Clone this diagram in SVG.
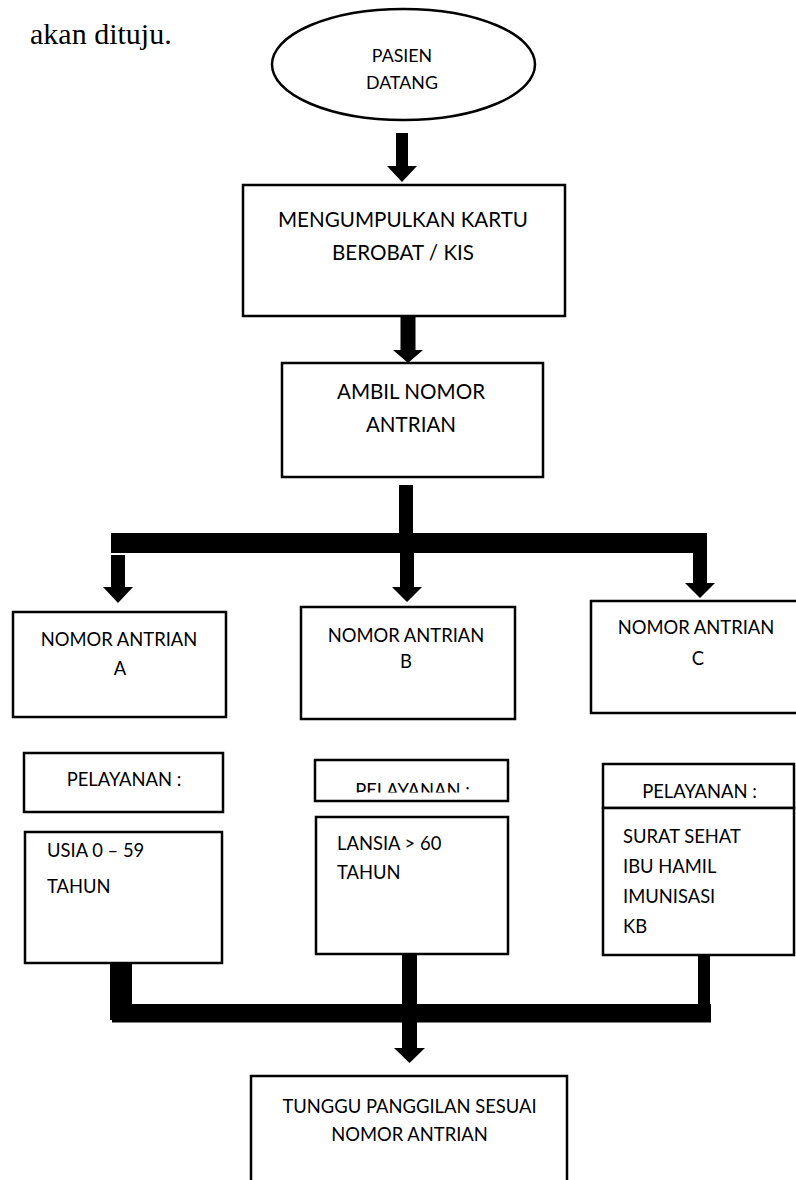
<svg xmlns="http://www.w3.org/2000/svg" width="796" height="1180" viewBox="0 0 796 1180">
<style>
.box{fill:#fff;stroke:#000;stroke-width:2.5}
.t{font-family:Lato,"Open Sans",sans-serif;fill:#000;font-size:18.4px}
.tc{text-anchor:middle}
.big{font-size:20.6px}
.ar{fill:#000;stroke:none}
</style>
<defs>
<clipPath id="clipPelB"><rect x="300" y="760" width="220" height="32.5"/></clipPath>
</defs>
<rect width="796" height="1180" fill="#fff"/>
<text x="30" y="44" style="font-family:'Liberation Serif','Times New Roman',serif;font-size:30px;fill:#000">akan dituju.</text>

<g id="connectors">
<polygon class="ar" points="396,133 408,133 408,166 417,166 402,182 387,166 396,166"/>
<polygon class="ar" points="400.5,317 415.5,317 415.5,350 423,350 408,363 393,350 400.5,350"/>
<rect class="ar" x="399" y="485" width="14" height="68"/>
<rect class="ar" x="111" y="533" width="596" height="20"/>
<polygon class="ar" points="111,555 125,555 125,587 133,587 118,603 103,587 111,587"/>
<polygon class="ar" points="400,553 414,553 414,587 422,587 407,602 392,587 400,587"/>
<polygon class="ar" points="693,553 707,553 707,583 715,583 700,598 685,583 693,583"/>
<rect class="ar" x="110" y="962" width="22" height="58"/>
<rect class="ar" x="112" y="1004" width="599" height="18.5"/>
<rect class="ar" x="402" y="953" width="15" height="52"/>
<polygon class="ar" points="402,1004 417,1004 417,1048 425,1048 409.5,1063 394,1048 402,1048"/>
<rect class="ar" x="698" y="955" width="12" height="50"/>
</g>

<g id="pasien-datang">
<ellipse class="box" cx="403.5" cy="64.5" rx="131.5" ry="55.5"/>
<text class="t tc" x="402" y="62" style="font-size:17.8px">PASIEN</text>
<text class="t tc" x="402" y="89" style="font-size:17.8px">DATANG</text>
</g>

<g id="kumpul-kartu">
<rect class="box" x="243" y="185" width="322" height="131"/>
<text class="t tc big" x="403" y="227">MENGUMPULKAN KARTU</text>
<text class="t tc big" x="403" y="260">BEROBAT / KIS</text>
</g>

<g id="ambil-nomor">
<rect class="box" x="282" y="363" width="261" height="114"/>
<text class="t tc big" x="411" y="399">AMBIL NOMOR</text>
<text class="t tc big" x="411" y="432">ANTRIAN</text>
</g>

<g id="nomor-a">
<rect class="box" x="13" y="612" width="213" height="105"/>
<text class="t tc" x="119" y="646">NOMOR ANTRIAN</text>
<text class="t tc" x="120" y="675">A</text>
</g>

<g id="nomor-b">
<rect class="box" x="301" y="607" width="214" height="112"/>
<text class="t tc" x="406" y="642">NOMOR ANTRIAN</text>
<text class="t tc" x="406" y="668">B</text>
</g>

<g id="nomor-c">
<rect class="box" x="591" y="601" width="207" height="112"/>
<text class="t tc" x="696" y="634">NOMOR ANTRIAN</text>
<text class="t tc" x="698" y="665">C</text>
</g>

<g id="pelayanan-a">
<rect class="box" x="24" y="753" width="199" height="59"/>
<text class="t tc" x="124" y="786">PELAYANAN :</text>
</g>

<g id="pelayanan-b">
<rect class="box" x="315" y="760" width="193" height="41"/>
<text class="t tc" x="412.5" y="796.5" clip-path="url(#clipPelB)">PELAYANAN :</text>
</g>

<g id="pelayanan-c">
<rect class="box" x="603" y="764" width="191" height="44"/>
<text class="t tc" x="699.5" y="798">PELAYANAN :</text>
</g>

<g id="detail-a">
<rect class="box" x="25" y="832" width="197" height="131"/>
<text class="t" x="47" y="857">USIA 0 – 59</text>
<text class="t" x="47" y="893">TAHUN</text>
</g>

<g id="detail-b">
<rect class="box" x="316" y="817" width="192" height="137"/>
<text class="t" x="337" y="850">LANSIA &gt; 60</text>
<text class="t" x="337" y="879">TAHUN</text>
</g>

<g id="detail-c">
<rect class="box" x="603" y="808" width="191" height="147"/>
<text class="t" x="623" y="843">SURAT SEHAT</text>
<text class="t" x="623" y="873">IBU HAMIL</text>
<text class="t" x="623" y="903">IMUNISASI</text>
<text class="t" x="623" y="933">KB</text>
</g>

<g id="tunggu">
<rect class="box" x="251" y="1076" width="316" height="130"/>
<text class="t tc" x="409.5" y="1113">TUNGGU PANGGILAN SESUAI</text>
<text class="t tc" x="409.5" y="1141">NOMOR ANTRIAN</text>
</g>
</svg>
